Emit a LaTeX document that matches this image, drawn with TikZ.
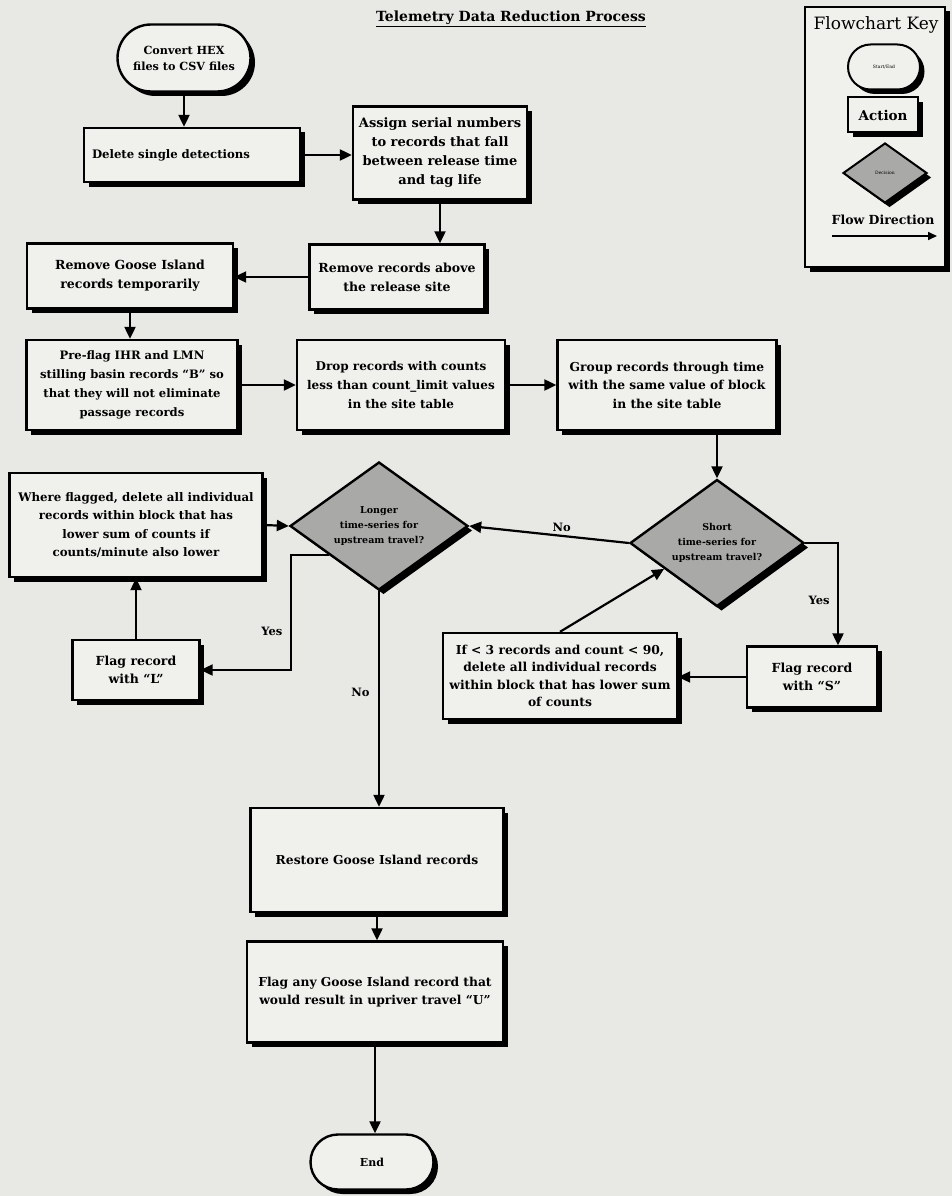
\documentclass[tikz,border=0pt]{standalone}
\usepackage{fontspec}
\setmainfont{DejaVu Serif}
\usetikzlibrary{shapes.geometric,shapes.misc,shadows,arrows.meta,calc}
\definecolor{pagebg}{HTML}{E8E8E5}
\definecolor{boxbg}{HTML}{F0F0ED}
\definecolor{decbg}{HTML}{A9A9A7}
\begin{document}
\begin{tikzpicture}[x=1pt,y=-1pt,
  shad/.style={drop shadow={shadow xshift=4.5pt,shadow yshift=-4.5pt,fill=black,opacity=1}},
  actbox/.style={draw=black,line width=2.4pt,fill=boxbg,shad,rectangle,inner sep=3pt,align=center,font=\bfseries\fontsize{12.3}{18.5}\selectfont},
  termbox/.style={actbox,rounded rectangle},
  decbox/.style={draw=black,line width=2.4pt,fill=decbg,shad,diamond,inner sep=0pt,align=center,font=\bfseries\fontsize{9.5}{15}\selectfont},
  arr/.style={line width=2.2pt,-{Triangle[length=12pt,width=11pt]}},
  lbl/.style={font=\bfseries\fontsize{11.5}{13}\selectfont},
]
\fill[pagebg] (0,0) rectangle (952,1196);
\useasboundingbox (0,0) rectangle (952,1196);

% title
\node[font=\bfseries\fontsize{14}{16}\selectfont] (title) at (511,19) {\underline{Telemetry Data Reduction Process}};

% flowchart nodes
\node[termbox,minimum width=139pt,minimum height=67pt,font=\bfseries\fontsize{11.2}{16}\selectfont] (start) at (184,58) {Convert HEX\\files to CSV files};
\node[actbox,minimum width=216pt,minimum height=54pt,text width=200pt,align=left,font=\bfseries\fontsize{11.7}{16}\selectfont] (del) at (192,155) {Delete single detections};
\node[actbox,minimum width=174pt,minimum height=93pt,font=\bfseries\fontsize{13}{19}\selectfont] (assign) at (440,153) {Assign serial numbers\\to records that fall\\between release time\\and tag life};
\node[actbox,minimum width=175pt,minimum height=65pt,font=\bfseries\fontsize{12.5}{19}\selectfont] (remabove) at (397,277) {Remove records above\\the release site};
\node[actbox,minimum width=206pt,minimum height=65pt,font=\bfseries\fontsize{12.5}{19}\selectfont] (remgoose) at (130,276) {Remove Goose Island\\records temporarily};
\node[actbox,minimum width=211pt,minimum height=90pt,font=\bfseries\fontsize{11.6}{19}\selectfont] (preflag) at (132,385) {Pre-flag IHR and LMN\\stilling basin records ``B'' so\\that they will not eliminate\\passage records};
\node[actbox,minimum width=208pt,minimum height=90pt,font=\bfseries\fontsize{12}{19}\selectfont] (drop) at (401,385) {Drop records with counts\\less than count\_limit values\\in the site table};
\node[actbox,minimum width=219pt,minimum height=90pt] (group) at (667,385) {Group records through time\\with the same value of block\\in the site table};
\node[decbox,minimum width=174pt,minimum height=127pt,aspect=1.37] (short) at (717,543) {Short\\time-series for\\upstream travel?};
\node[decbox,minimum width=178pt,minimum height=128pt,aspect=1.39] (longer) at (379,526) {Longer\\time-series for\\upstream travel?};
\node[actbox,minimum width=253pt,minimum height=104pt,font=\bfseries\fontsize{11.8}{18.5}\selectfont] (where) at (136,525) {Where flagged, delete all individual\\records within block that has\\lower sum of counts if\\counts/minute also lower};
\node[actbox,minimum width=127pt,minimum height=60pt,font=\bfseries\fontsize{12.5}{18}\selectfont] (flagL) at (136,670) {Flag record\\with ``L''};
\node[actbox,minimum width=234pt,minimum height=86pt,font=\bfseries\fontsize{12.3}{17.5}\selectfont] (ifbox) at (560,676) {If < 3 records and count < 90,\\delete all individual records\\within block that has lower sum\\of counts};
\node[actbox,minimum width=130pt,minimum height=61pt,font=\bfseries\fontsize{12.5}{18}\selectfont] (flagS) at (812,677) {Flag record\\with ``S''};
\node[actbox,minimum width=253pt,minimum height=104pt] (restore) at (377,860) {Restore Goose Island records};
\node[actbox,minimum width=256pt,minimum height=101pt] (flagany) at (375,992) {Flag any Goose Island record that\\would result in upriver travel ``U''};
\node[termbox,minimum width=129pt,minimum height=55pt,font=\bfseries\fontsize{11}{14}\selectfont] (end) at (372,1162) {End};

% connectors
\draw[arr] (start.south) -- (start.south |- del.north);
\draw[arr] (del.east) -- (del.east -| assign.west);
\draw[arr] (assign.south) -- (assign.south |- remabove.north);
\draw[arr] (remabove.west) -- (remabove.west -| remgoose.east);
\draw[arr] (remgoose.south) -- (remgoose.south |- preflag.north);
\draw[arr] (preflag.east) -- (drop.west);
\draw[arr] (drop.east) -- (group.west);
\draw[arr] (short.north |- group.south) -- (short.north);
\draw[arr] (short.west) -- node[lbl,above,pos=0.42] (nolbl1) {No} (longer.east);
\draw[arr] (short.east) -| node[lbl,pos=0.78,left=4pt] (yeslbl1) {Yes} ([xshift=26pt]flagS.north);
\draw[arr] (flagS.west) -- (flagS.west -| ifbox.east);
\draw[arr] (ifbox.north) -- ($(short.west)!0.4!(short.south)$);
\draw[arr] ($(longer.west)!0.45!(longer.south)$) -| node[lbl,pos=0.83,left=4pt] (yeslbl2) {Yes} ($(longer.west |- flagL.east)+(2,0)$) -- (flagL.east);
\draw[arr] (flagL.north) -- (flagL.north |- where.south);
\draw[arr] (where.east) -- (longer.west);
\draw[arr] (longer.south) -- node[lbl,pos=0.47,left=5pt] (nolbl2) {No} (longer.south |- restore.north);
\draw[arr] (restore.south) -- (restore.south |- flagany.north);
\draw[arr] (flagany.south) -- (flagany.south |- end.north);

% key
\node[draw=black,line width=2.4pt,fill=boxbg,shad,minimum width=140pt,minimum height=260pt] (key) at (875,137) {};
\node[font=\fontsize{17}{19}\selectfont] (keyttl) at (876,25) {Flowchart Key};
\node[termbox,line width=2pt,minimum width=78pt,minimum height=45pt,font=\fontsize{4.5}{5}\selectfont] (kterm) at (884,67) {Start/End};
\node[actbox,line width=2pt,minimum width=70pt,minimum height=35pt,font=\bfseries\fontsize{13.5}{15}\selectfont] (kact) at (883,115) {Action};
\node[decbox,line width=2pt,minimum width=84pt,minimum height=60pt,aspect=1.4,font=\fontsize{4.5}{5}\selectfont] (kdec) at (885,173) {Decision};
\node[font=\bfseries\fontsize{12.5}{14}\selectfont] (kflow) at (883,220) {Flow Direction};
\coordinate (kfa) at (832,236);
\coordinate (kfb) at (937,236);
\draw[line width=1.6pt,-{Triangle[length=9pt,width=8pt]}] (kfa) -- (kfb);
\end{tikzpicture}
\end{document}
